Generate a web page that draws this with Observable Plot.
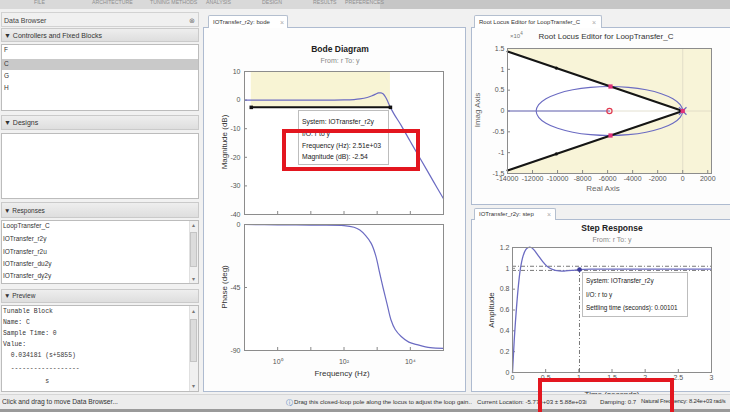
<!DOCTYPE html>
<html><head><meta charset="utf-8">
<script src="https://cdn.jsdelivr.net/npm/d3@7"></script>
<script src="https://cdn.jsdelivr.net/npm/@observablehq/plot@0.6"></script>
<style>
html,body{margin:0;padding:0;}
body{width:730px;height:412px;overflow:hidden;}
#app{position:relative;width:730px;height:412px;overflow:hidden;background:#f1f1f1;font-family:"Liberation Sans",Arial,sans-serif;color:#222;}
#app div{position:absolute;box-sizing:border-box;}
.t{white-space:nowrap;line-height:1;}
.hdr{background:linear-gradient(#eeeeee,#dedede);border:1px solid #cacaca;}
.box{background:#fff;border:1px solid #bcbcbc;}
.tab{background:#fff;border:1px solid #b4bfcf;border-bottom:none;border-radius:2px 2px 0 0;}
.panel{background:#fcfcfc;border:1px solid #aebbd0;}
.tip{background:#fff;border:1px solid #bdbdbd;}
.red{border:4px solid #e3161f;}
</style></head>
<body><div id="app"></div>
<script>
// ---------------- data ----------------
const menuItems = ["FILE","ARCHITECTURE","TUNING METHODS","ANALYSIS","DESIGN","RESULTS","PREFERENCES"];
const blocks = ["F","C","G","H"];
const responses = ["LoopTransfer_C","IOTransfer_r2y","IOTransfer_r2u","IOTransfer_du2y","IOTransfer_dy2y"];
const previewLines = ["Tunable Block","Name: C","Sample Time: 0","Value:","  0.034181 (s+5855)","  ------------------","           s"];
const statusParts = ["Drag this closed-loop pole along the locus to adjust the loop gain..", "Current Location: -5.77e+03 \u00b1 5.88e+03i", "Damping: 0.7", "Natural Frequency: 8.24e+03 rad/s"];

// Bode magnitude (Hz, dB)
const magFreq = [0.1, 1, 10, 50, 100, 200, 300, 500, 700, 900, 1100, 1300, 1500, 1800, 2100, 2510, 3200, 5400, 10000, 20000, 50000, 100000];
const magDb   = [0, 0, 0, 0, 0.05, 0.2, 0.4, 0.9, 1.5, 2.1, 2.5, 2.5, 2.2, 1.0, -0.6, -2.54, -4.8, -9.0, -14.5, -20.5, -28.5, -34.5];
// Bode phase (Hz, deg)
const phaseFreq = [0.1, 1, 10, 100, 200, 300, 450, 660, 900, 1200, 1500, 2000, 2600, 3500, 5300, 9000, 17000, 40000, 100000];
const phaseDeg  = [0, -0.2, -0.5, -0.8, -2, -4, -8, -13.5, -22, -35, -45, -57, -68, -75, -80, -84, -86, -88, -88.5];
// design requirement / data tip line
const reqFreq = [0.16, 2510];
const reqDb = [-2.54, 10];
const freqTicks = [0.1, 1, 10, 100, 1000, 10000, 100000];
const freqTickLabels = ["", "10\u2070", "", "10\u00b2", "", "10\u2074", ""];
const magTicks = [10, 0, -10, -20, -30, -40];
const phaseTicks = [0, -45, -90];

// Root locus
const locusRe = [0, -200, -784, -1715, -2927, -4340, -5855, -7370, -8783, -9995, -10926, -11510, -11710,
                 -11510, -10926, -9995, -8783, -7370, -5855, -4340, -2927, -1715, -784, -200];
const locusIm = [0, 1519, 2935, 4151, 5084, 5670, 5870, 5670, 5084, 4151, 2935, 1519, 0,
                 -1519, -2935, -4151, -5084, -5670, -5870, -5670, -5084, -4151, -2935, -1519];
const realBranchRe = [-14000, -5855];
const dampRe = [-14000, 0];
const dampIm = [14283, 0];
const clPoleRe = [-5770, -5770, 0];
const clPoleIm = [5880, -5880, 0];
const olPoleRe = [0];
const olPoleIm = [0];
const zeroRe = [-5855];
const zeroIm = [0];
const handleRe = [-10100, -10100];
const handleIm = [10300, -10300];
const rlXTicks = [-14000, -12000, -10000, -8000, -6000, -4000, -2000, 0, 2000];
const rlYTicks = [-15000, -10000, -5000, 0, 5000, 10000, 15000];
const rlXDomain = [-14000, 2300];

// Step response (time in ms)
const stepT = [0, 0.01, 0.03, 0.06, 0.09, 0.12, 0.16, 0.2, 0.24, 0.28, 0.32, 0.38, 0.45, 0.52, 0.6, 0.7, 0.8, 0.9, 1.01, 1.2, 1.5, 2, 2.5, 3];
const stepY = [0, 0.12, 0.35, 0.62, 0.84, 1.0, 1.12, 1.18, 1.2, 1.2, 1.18, 1.13, 1.07, 1.02, 0.99, 0.975, 0.975, 0.98, 0.988, 0.992, 0.993, 0.993, 0.993, 0.993];
const settleBand = [0.98, 1.02];
const settleTime = [1.01];
const settleVal = [0.988];
const stepXTicks = [0, 0.5, 1, 1.5, 2, 2.5, 3];
const stepYTicks = [0, 0.2, 0.4, 0.6, 0.8, 1, 1.2];

// ---------------- helpers ----------------
const BLUE = "#6b6bc2";
const MAG = "#e0307a";
const FONT = "Liberation Sans, Arial, sans-serif";
const app = document.getElementById("app");
function el(cls, x, y, w, h, css = "") {
  const d = document.createElement("div");
  d.className = cls;
  d.style.cssText = `left:${x}px;top:${y}px;width:${w}px;height:${h}px;${css}`;
  app.appendChild(d); return d;
}
function txt(s, x, y, css = "", anchor = "left") {
  const d = document.createElement("div");
  d.className = "t"; d.textContent = s;
  const tf = anchor === "center" ? "translate(-50%,-50%)" : anchor === "right" ? "translate(-100%,-50%)" : anchor === "vert" ? "translate(-50%,-50%) rotate(-90deg)" : "translate(0,-50%)";
  d.style.cssText = `left:${x}px;top:${y}px;transform:${tf};${css}`;
  app.appendChild(d); return d;
}
function place(svg, x, y) {
  const d = document.createElement("div");
  d.style.cssText = `left:${x}px;top:${y}px;`;
  d.appendChild(svg); app.appendChild(d); return d;
}
const plotStyle = {background: "transparent", fontFamily: FONT, fontSize: "7px", color: "#555", overflow: "visible"};

// ---------------- top strip ----------------
el("", 0, 0, 730, 9, "background:#d9d9d9;");
el("", 380, 0, 350, 9, "background:#c6c6c6;");
const menuX = [34, 92, 150, 206, 262, 313, 345];
menuItems.forEach((m, i) => txt(m, menuX[i], 2.5, "font-size:5.2px;color:#8e8e8e;"));

// ---------------- left data browser ----------------
const L = 1, W = 198;
el("", L, 12, W, 15, "background:#f0f0f0;border:1px solid #d2d2d2;");
txt("Data Browser", L + 3, 20, "font-size:7px;color:#444;");
txt("\u2297", 192, 20, "font-size:7px;color:#777;", "center");
el("hdr", L, 28, W, 14);
txt("\u25BC Controllers and Fixed Blocks", L + 3, 35, "font-size:7px;color:#333;");
el("box", L, 44, W, 67);
el("", L + 1, 59, W - 2, 11, "background:#c9c9c9;");
const blockY = [50, 64, 76, 88];
blocks.forEach((b, i) => txt(b, L + 3, blockY[i], "font-size:6.5px;color:#333;"));
el("hdr", L, 115, W, 15);
txt("\u25BC Designs", L + 3, 122, "font-size:7px;color:#333;");
el("box", L, 133, W, 66);
el("hdr", L, 202, W, 16);
txt("\u25BC Responses", L + 3, 211, "font-size:6.5px;color:#333;");
el("box", L, 220, W, 64);
el("", 189, 221, 9, 62, "background:#f0f0f0;border-left:1px solid #e0e0e0;");
el("", 190, 232, 7, 35, "background:#dcdcdc;border:1px solid #c4c4c4;");
txt("\u25B4", 193.5, 225, "font-size:6px;color:#777;", "center");
txt("\u25BE", 193.5, 279, "font-size:6px;color:#777;", "center");
const respY = [226, 239, 252, 264, 276];
responses.forEach((r, i) => txt(r, L + 2, respY[i], "font-size:6.5px;color:#333;"));
el("hdr", L, 289, W, 14);
txt("\u25BC Preview", L + 3, 296, "font-size:6.5px;color:#333;");
el("box", L, 305, W, 87);
el("", 189, 306, 9, 85, "background:#f0f0f0;border-left:1px solid #e0e0e0;");
el("", 190, 319, 7, 43, "background:#dcdcdc;border:1px solid #c4c4c4;");
txt("\u25B4", 193.5, 311, "font-size:6px;color:#777;", "center");
txt("\u25BE", 193.5, 386, "font-size:6px;color:#777;", "center");
const prevY = [312, 323, 334, 345, 356, 369, 382];
previewLines.forEach((p, i) => txt(p, L + 2, prevY[i], "font-family:'Liberation Mono',monospace;font-size:6.4px;color:#333;white-space:pre;"));

// ---------------- panels & tabs ----------------
el("panel", 203, 27, 263, 365, "background:#fdfdfd;");
el("tab", 208, 15, 80, 13);
txt("IOTransfer_r2y: bode", 213, 21.5, "font-size:6px;color:#333;");
txt("\u00d7", 280, 21.5, "font-size:7px;color:#aaa;");
el("panel", 471, 27, 262, 178, "background:#fdfdfd;");
el("tab", 474, 15, 128, 13);
txt("Root Locus Editor for LoopTransfer_C", 479, 21.5, "font-size:6px;color:#333;");
txt("\u00d7", 592, 21.5, "font-size:7px;color:#aaa;");
el("panel", 471, 219, 262, 173, "background:#fdfdfd;");
el("tab", 474, 208, 82, 12);
txt("IOTransfer_r2y: step", 479, 214, "font-size:6px;color:#333;");
txt("\u00d7", 547, 214, "font-size:7px;color:#aaa;");

// ---------------- Bode magnitude ----------------
const magData = magFreq.map((f, i) => ({f, v: magDb[i]}));
const reqLine = reqFreq.map(f => ({f, v: reqDb[0]}));
const magPlot = Plot.plot({
  width: 250, height: 160, marginLeft: 40, marginRight: 11, marginTop: 8, marginBottom: 9,
  style: plotStyle,
  x: {type: "log", domain: [freqTicks[0], freqTicks[freqTicks.length - 1]]},
  y: {domain: [magTicks[magTicks.length - 1], magTicks[0]]},
  marks: [
    Plot.frame({fill: "#fff"}),
    Plot.rect([reqFreq], {x1: d => d[0], x2: d => d[1], y1: reqDb[0], y2: reqDb[1], fill: "#f8f4d4"}),
    Plot.axisX({ticks: freqTicks, tickFormat: () => "", tickSize: -3, stroke: "#888", label: null}),
    Plot.axisY({ticks: magTicks, tickFormat: d => String(d), tickSize: -3, tickPadding: 7, stroke: "#888", label: null}),
    Plot.line(magData, {x: "f", y: "v", stroke: BLUE, strokeWidth: 1.2, curve: "catmull-rom"}),
    Plot.line(reqLine, {x: "f", y: "v", stroke: "#111", strokeWidth: 2}),
    Plot.dot(reqLine, {x: "f", y: "v", symbol: "square", r: 2, fill: "#111"}),
    Plot.frame({stroke: "#8c8c8c"})
  ]
});
place(magPlot, 204, 63);

// ---------------- Bode phase ----------------
const phData = phaseFreq.map((f, i) => ({f, v: phaseDeg[i]}));
const phPlot = Plot.plot({
  width: 250, height: 175, marginLeft: 40, marginRight: 11, marginTop: 8, marginBottom: 41,
  style: plotStyle,
  x: {type: "log", domain: [freqTicks[0], freqTicks[freqTicks.length - 1]]},
  y: {domain: [phaseTicks[phaseTicks.length - 1], phaseTicks[0]]},
  marks: [
    Plot.frame({fill: "#fff"}),
    Plot.axisX({ticks: freqTicks, tickFormat: d => freqTickLabels[freqTicks.indexOf(d)], tickSize: -3, tickPadding: 12, stroke: "#888", label: null}),
    Plot.axisY({ticks: phaseTicks, tickFormat: d => String(d), tickSize: -3, tickPadding: 7, stroke: "#888", label: null}),
    Plot.line(phData, {x: "f", y: "v", stroke: BLUE, strokeWidth: 1.2, curve: "catmull-rom"}),
    Plot.frame({stroke: "#8c8c8c"})
  ]
});
place(phPlot, 204, 216);

txt("Bode Diagram", 340, 49, "font-size:8.5px;font-weight:bold;color:#222;", "center");
txt("From: r  To: y", 340, 60, "font-size:7px;color:#888;", "center");
txt("Magnitude (dB)", 225, 142, "font-size:8px;color:#333;", "vert");
txt("Phase (deg)", 225, 287, "font-size:8px;color:#333;", "vert");
txt("Frequency  (Hz)", 342, 374, "font-size:8px;color:#333;", "center");

// ---------------- Root locus ----------------
const locus = locusRe.map((r, i) => ({r, m: locusIm[i]}));
const wedge = dampRe.map((r, i) => ({r, hi: dampIm[i], lo: -dampIm[i]}));
const dampUp = dampRe.map((r, i) => ({r, m: dampIm[i]}));
const dampDn = dampRe.map((r, i) => ({r, m: -dampIm[i]}));
const zip = (a, b) => a.map((r, i) => ({r, m: b[i]}));
const rlPlot = Plot.plot({
  width: 250, height: 170, marginLeft: 35, marginRight: 11, marginTop: 8, marginBottom: 37,
  style: plotStyle,
  x: {domain: rlXDomain},
  y: {domain: [rlYTicks[0], rlYTicks[rlYTicks.length - 1]]},
  marks: [
    Plot.frame({fill: "#f8f4d8"}),
    Plot.areaY(wedge, {x: "r", y1: "lo", y2: "hi", fill: "#fff"}),
    Plot.ruleY([0], {stroke: "#dcd8c4", strokeWidth: 0.8}),
    Plot.ruleX([0], {stroke: "#dcd8c4", strokeWidth: 0.8}),
    Plot.axisX({ticks: rlXTicks, tickFormat: d => String(d), tickSize: -3, tickPadding: 6, stroke: "#888", label: null}),
    Plot.axisY({ticks: rlYTicks, tickFormat: d => String(d / 1e4), tickSize: -3, tickPadding: 6, stroke: "#888", label: null}),
    Plot.line(realBranchRe.map(r => ({r, m: 0})), {x: "r", y: "m", stroke: BLUE, strokeWidth: 1.2}),
    Plot.line(locus, {x: "r", y: "m", stroke: BLUE, strokeWidth: 1.1, curve: "catmull-rom-closed"}),
    Plot.line(dampUp, {x: "r", y: "m", stroke: "#151515", strokeWidth: 2}),
    Plot.line(dampDn, {x: "r", y: "m", stroke: "#151515", strokeWidth: 2}),
    Plot.dot(zip(handleRe, handleIm), {x: "r", y: "m", r: 1.6, fill: "#111"}),
    Plot.dot(zip(zeroRe, zeroIm), {x: "r", y: "m", r: 2.6, stroke: "#e03a50", strokeWidth: 1.2, fill: "none"}),
    Plot.dot(zip(olPoleRe, olPoleIm), {x: "r", y: "m", symbol: "times", r: 3.5, stroke: BLUE, strokeWidth: 1.2}),
    Plot.dot(zip(clPoleRe, clPoleIm), {x: "r", y: "m", symbol: "square", r: 2.4, fill: MAG}),
    Plot.frame({stroke: "#8c8c8c"})
  ]
});
place(rlPlot, 472, 40);
txt("Root Locus Editor for LoopTransfer_C", 606, 37, "font-size:8px;color:#333;", "center");
const ex = txt("\u00d710", 510, 35, "font-size:6px;color:#777;");
const sup = document.createElement("sup"); sup.textContent = "4"; sup.style.fontSize = "4.5px"; ex.appendChild(sup);
txt("Imag Axis", 478, 110, "font-size:8px;color:#666;", "vert");
txt("Real Axis", 603, 189, "font-size:8px;color:#666;", "center");

// ---------------- Step response ----------------
const stepData = stepT.map((t, i) => ({t, v: stepY[i]}));
const stPlot = Plot.plot({
  width: 250, height: 152, marginLeft: 38, marginRight: 13, marginTop: 8, marginBottom: 19,
  style: plotStyle,
  x: {domain: [stepXTicks[0], stepXTicks[stepXTicks.length - 1]]},
  y: {domain: [stepYTicks[0], stepYTicks[stepYTicks.length - 1]]},
  marks: [
    Plot.frame({fill: "#fff"}),
    Plot.axisX({ticks: stepXTicks, tickFormat: d => String(d), tickSize: -3, tickPadding: 6, stroke: "#888", label: null}),
    Plot.axisY({ticks: stepYTicks, tickFormat: d => String(d), tickSize: -3, tickPadding: 6, stroke: "#888", label: null}),
    Plot.ruleY(settleBand, {stroke: "#555", strokeWidth: 0.8, strokeDasharray: "4 2 1 2"}),
    Plot.ruleX(settleTime, {y1: 0, y2: settleVal[0], stroke: "#555", strokeWidth: 0.8, strokeDasharray: "4 2 1 2"}),
    Plot.line(stepData, {x: "t", y: "v", stroke: BLUE, strokeWidth: 1.3, curve: "catmull-rom"}),
    Plot.dot(settleTime.map((t, i) => ({t, v: settleVal[i]})), {x: "t", y: "v", r: 2.3, fill: "#3a3a9a"}),
    Plot.frame({stroke: "#8c8c8c"})
  ]
});
place(stPlot, 474, 239);
txt("Step Response", 612, 228, "font-size:8.5px;font-weight:bold;color:#222;", "center");
txt("From: r  To: y", 612, 239, "font-size:7px;color:#888;", "center");
txt("Amplitude", 492, 310, "font-size:8px;color:#333;", "vert");
txt("Time (seconds)", 612, 395, "font-size:8px;color:#333;", "center");

// ---------------- data tips ----------------
el("tip", 298, 110, 91, 55);
const tipLines = ["System: IOTransfer_r2y", "I/O: r to y", "Frequency (Hz): 2.51e+03", "Magnitude (dB): -2.54"];
const tipY = [122, 134, 146, 157];
tipLines.forEach((s, i) => txt(s, 302, tipY[i], "font-size:6.8px;color:#222;"));
el("tip", 582, 272, 106, 45);
const tip2 = ["System: IOTransfer_r2y", "I/O: r to y", "Settling time (seconds): 0.00101"];
const tip2Y = [281, 295, 308];
tip2.forEach((s, i) => txt(s, 586, tip2Y[i], "font-size:6.4px;color:#222;"));

// ---------------- status bar ----------------
el("", 0, 394, 730, 18, "background:#ececec;border-top:1px solid #d6d6d6;");
el("", 0, 409, 730, 3, "background:#9a9a9a;");
txt("Click and drag to move Data Browser...", 2, 402, "font-size:6.7px;color:#333;");
txt("\u24D8", 289, 402, "font-size:7px;color:#4a7cc0;", "center");
const statusX = [294, 477, 600, 641];
statusParts.forEach((s, i) => txt(s, statusX[i], 402, "font-size:" + (i === 3 ? "5.9px;letter-spacing:-0.2px;" : "6.1px;") + "color:#333;"));

// ---------------- red highlight boxes ----------------
el("red", 282, 129, 138, 42);
el("red", 538, 378, 136, 40);
</script></body></html>
